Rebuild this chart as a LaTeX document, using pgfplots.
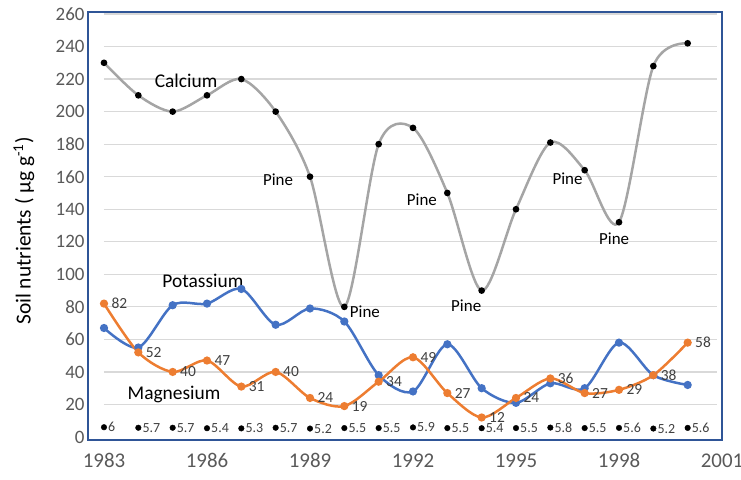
\documentclass[border=0pt]{standalone}
\usepackage{fontspec}
\setmainfont{Carlito}
\usepackage{pgfplots}
\pgfplotsset{compat=1.18}
\definecolor{frameblue}{HTML}{2F5597}
\definecolor{tickgray}{HTML}{595959}
\definecolor{lblgray}{HTML}{404040}
\definecolor{gridgray}{HTML}{D9D9D9}
\definecolor{cagray}{HTML}{A5A5A5}
\definecolor{kblue}{HTML}{4472C4}
\definecolor{mgorange}{HTML}{ED7D31}
\begin{document}
\begin{tikzpicture}
\useasboundingbox (-88bp,-40bp) rectangle (653bp,440bp);
\begin{axis}[
  at={(0,0)}, anchor=south west,
  scale only axis, width=634bp, height=428bp,
  xmin=1982.534, xmax=2001, ymin=-1.84, ymax=261.23,
  xtick={1983,1986,...,2001}, ytick={0,20,...,260},
  major tick length=0pt, tick style={draw=none},
  axis line style={draw=frameblue, line width=2.5bp},
  /pgf/number format/1000 sep={},
  /pgf/number format/assume math mode=true,
  x tick label style={font=\fontsize{21}{25}\selectfont, text=tickgray, yshift=-10bp},
  y tick label style={font=\fontsize{19}{22}\selectfont, text=tickgray},
  every axis y label/.style={at={(axis description cs:0,0.488)}, xshift=-64bp, rotate=90, anchor=center, font=\fontsize{21.5}{25}\selectfont},
  ylabel={Soil nutrients ( µg g\textsuperscript{-1})},
  clip=false,
]
\pgfplotsinvokeforeach{20,40,...,260}{
  \addplot[gridgray, line width=1.3bp, forget plot] coordinates {(1983,#1) (2000.85,#1)};
}
% Calcium
\addplot[cagray, line width=2.5bp, smooth, mark=*, mark size=2bp, mark options={draw=black, fill=black}] coordinates {
(1983,230) (1984,210) (1985,200) (1986,210) (1987,220) (1988,200) (1989,160) (1990,80) (1991,180) (1992,190) (1993,150) (1994,90) (1995,140) (1996,181) (1997,164) (1998,132) (1999,228) (2000,242)};
% Potassium
\addplot[kblue, line width=2.5bp, smooth, mark=*, mark size=2.8bp, mark options={fill=kblue, draw=kblue}] coordinates {
(1983,67) (1984,55) (1985,81) (1986,82) (1987,91) (1988,69) (1989,79) (1990,71) (1991,38) (1992,28) (1993,57) (1994,30) (1995,21) (1996,33) (1997,30) (1998,58) (1999,38) (2000,32)};
% Magnesium
\addplot[mgorange, line width=2.5bp, smooth, mark=*, mark size=2.8bp, mark options={fill=mgorange, draw=mgorange},
  nodes near coords, point meta=explicit symbolic,
  every node near coord/.append style={anchor=west, xshift=3bp, text=lblgray, font=\fontsize{15.5}{18}\selectfont}] table[meta=lab] {
x y lab
1983 82 82
1984 52 52
1985 40 40
1986 47 47
1987 31 31
1988 40 40
1989 24 24
1990 19 19
1991 34 34
1992 49 49
1993 27 27
1994 12 12
1995 24 24
1996 36 36
1997 27 27
1998 29 29
1999 38 38
2000 58 58
};
% pH
\addplot[only marks, mark=*, mark size=2.8bp, mark options={fill=black, draw=black},
  nodes near coords, point meta=explicit symbolic,
  every node near coord/.append style={anchor=west, xshift=2bp, inner sep=2bp, text=lblgray, font=\fontsize{14}{16}\selectfont}] table[meta=lab] {
x y lab
1983 6 6
1984 5.7 5.7
1985 5.7 5.7
1986 5.4 5.4
1987 5.3 5.3
1988 5.7 5.7
1989 5.2 5.2
1990 5.5 5.5
1991 5.5 5.5
1992 5.9 5.9
1993 5.5 5.5
1994 5.4 5.4
1995 5.5 5.5
1996 5.8 5.8
1997 5.5 5.5
1998 5.6 5.6
1999 5.2 5.2
2000 5.6 5.6
};
\node[font=\fontsize{19.5}{23}\selectfont] at (axis cs:1985.39,218.8) {Calcium};
\node[font=\fontsize{19.5}{23}\selectfont] at (axis cs:1985.88,95.9) {Potassium};
\node[font=\fontsize{19.5}{23}\selectfont] at (axis cs:1985.04,26.4) {Magnesium};
\node[font=\fontsize{17}{20}\selectfont] at (axis cs:1988.07,158) {Pine};
\node[font=\fontsize{17}{20}\selectfont] at (axis cs:1990.6,77) {Pine};
\node[font=\fontsize{17}{20}\selectfont] at (axis cs:1992.26,145.7) {Pine};
\node[font=\fontsize{17}{20}\selectfont] at (axis cs:1993.55,80.5) {Pine};
\node[font=\fontsize{17}{20}\selectfont] at (axis cs:1996.5,158.6) {Pine};
\node[font=\fontsize{17}{20}\selectfont] at (axis cs:1997.86,121.7) {Pine};
\end{axis}
\end{tikzpicture}
\end{document}
